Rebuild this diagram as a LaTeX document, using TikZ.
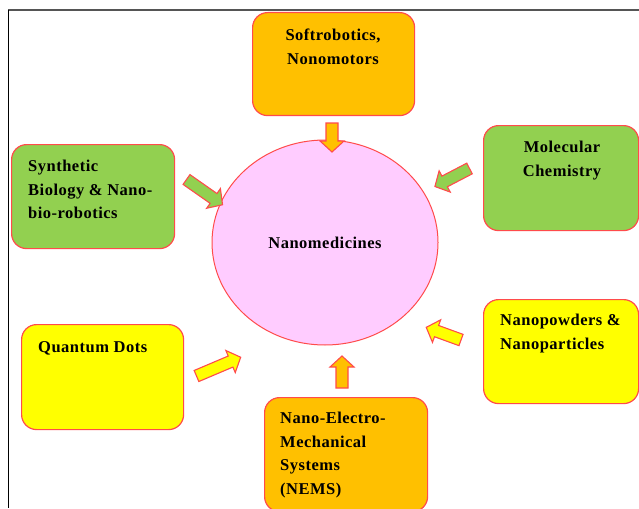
\documentclass[tikz,border=0pt]{standalone}
\usepackage{fontspec}
\setmainfont{Liberation Serif}[LetterSpace=3]
\usetikzlibrary{shapes.geometric}
\definecolor{boxorange}{HTML}{FFC000}
\definecolor{boxgreen}{HTML}{92D050}
\definecolor{boxyellow}{HTML}{FFFF00}
\definecolor{ellpink}{HTML}{FFCCFF}
\definecolor{edgered}{HTML}{FF4B4B}
\definecolor{framegray}{HTML}{555555}
\newcommand\blockarr[6]{% name, x, y (tail centre), angle, length, fill
  \coordinate (#1) at (#2,#3);
  \begin{scope}[shift={(#1)}, rotate=#4]
    \draw[arrowbody, fill=#6] (0,-6) -- (#5-11,-6) -- (#5-11,-12) -- (#5,0)
      -- (#5-11,12) -- (#5-11,6) -- (0,6) -- cycle;
  \end{scope}}
\tikzset{
  box/.style={draw=edgered, line width=1.2pt, rounded corners=15pt,
    anchor=north west, inner sep=0pt},
  arrowbody/.style={draw=edgered, line width=1.1pt, line join=miter},
  label/.style={inner sep=0pt, font=\fontsize{16.5}{23.5}\selectfont\bfseries},
}
\begin{document}
\begin{tikzpicture}[x=1pt,y=-1pt]
\useasboundingbox (0,0) rectangle (639,508);
\clip (0,0) rectangle (639,508);
\fill[white] (0,0) rectangle (639,508);
% frame
\coordinate (ftl) at (8,10);
\coordinate (ftr) at (639,10);
\coordinate (fbl) at (8,508);
\draw[framegray, line width=1.6pt] (ftl) -- (ftr);
\draw[black, line width=0.8pt] (ftl) -- (fbl);
% boxes
\node[box, fill=boxorange, minimum width=162pt, minimum height=103pt] (soft) at (252,12) {};
\node[box, fill=boxgreen, minimum width=163pt, minimum height=104pt] (synth) at (11,144) {};
\node[box, fill=boxgreen, minimum width=155pt, minimum height=105pt] (mol) at (483,125) {};
\node[box, fill=boxyellow, minimum width=162pt, minimum height=105pt] (qd) at (21,324) {};
\node[box, fill=boxyellow, minimum width=155pt, minimum height=104pt] (npow) at (483,299) {};
\node[box, fill=boxorange, minimum width=163pt, minimum height=114pt] (nems) at (264,397) {};
% centre ellipse
\node[ellipse, draw=edgered, line width=1pt, fill=ellpink, minimum width=226pt,
  minimum height=205pt, inner sep=0pt, font=\fontsize{16.5}{23.5}\selectfont\bfseries]
  (nano) at (325,242.5) {Nanomedicines};
% texts
\node[label, anchor=north, align=center] (tsoft) at (333,29) {Softrobotics,\\Nonomotors};
\node[label, anchor=north west, align=left] (tsynth) at (28,160) {Synthetic\\Biology \& Nano-\\bio-robotics};
\node[label, anchor=north, align=center] (tmol) at (562,141) {Molecular\\Chemistry};
\node[label, anchor=north west, align=left] (tqd) at (38,341) {Quantum Dots};
\node[label, anchor=north west, align=left] (tnpow) at (500,314) {Nanopowders \&\\Nanoparticles};
\node[label, anchor=north west, align=left] (tnems) at (280,412) {Nano-Electro-\\Mechanical\\Systems\\(NEMS)};
% block arrows
\blockarr{a1}{332}{123}{-90}{29}{boxorange}
\blockarr{a2}{186.5}{179.5}{-35}{44}{boxgreen}
\blockarr{a3}{469.5}{168.5}{207.5}{39}{boxgreen}
\blockarr{a4}{461}{340}{160}{37}{boxyellow}
\blockarr{a5}{342}{388}{90}{32}{boxorange}
\blockarr{a6}{196.5}{376}{23}{48}{boxyellow}
\end{tikzpicture}
\end{document}
